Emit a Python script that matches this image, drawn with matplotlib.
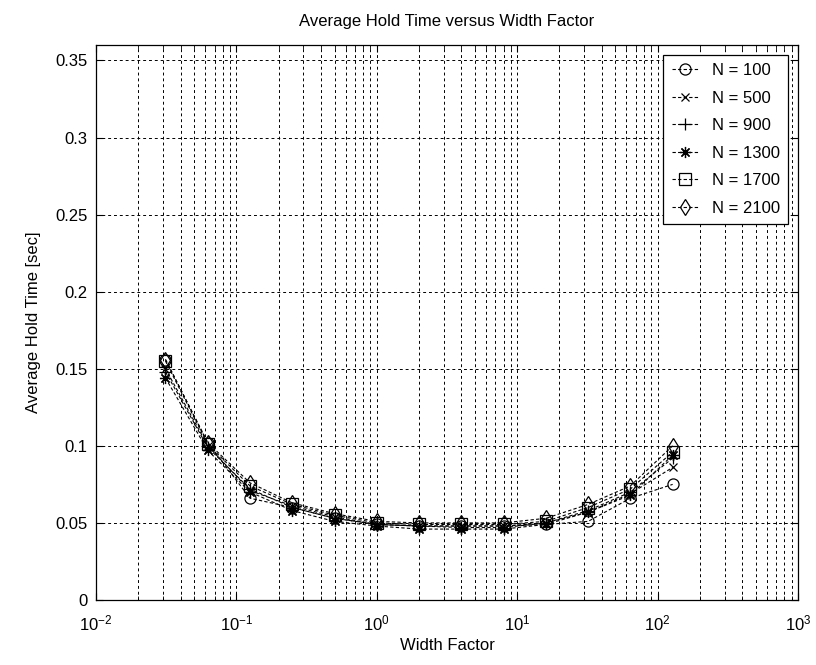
import numpy as np
import matplotlib.pyplot as plt
from matplotlib.ticker import LogLocator, FixedLocator, FuncFormatter, NullFormatter

plt.rcParams['font.family'] = ['Liberation Sans', 'DejaVu Sans']

# width factors 2^-5 ... 2^7
width_factor = [0.03125, 0.0625, 0.125, 0.25, 0.5, 1, 2, 4, 8, 16, 32, 64, 128]

hold_n100 = [0.156, 0.102, 0.066, 0.060, 0.053, 0.049, 0.048, 0.048, 0.048, 0.049, 0.051, 0.066, 0.075]
hold_n500 = [0.150, 0.100, 0.071, 0.061, 0.054, 0.049, 0.048, 0.048, 0.048, 0.050, 0.057, 0.069, 0.086]
hold_n900 = [0.148, 0.099, 0.072, 0.060, 0.053, 0.049, 0.048, 0.047, 0.047, 0.050, 0.058, 0.070, 0.092]
hold_n1300 = [0.144, 0.097, 0.070, 0.058, 0.051, 0.048, 0.046, 0.046, 0.046, 0.049, 0.057, 0.068, 0.094]
hold_n1700 = [0.155, 0.101, 0.074, 0.062, 0.055, 0.050, 0.049, 0.049, 0.049, 0.051, 0.060, 0.072, 0.096]
hold_n2100 = [0.156, 0.102, 0.076, 0.063, 0.056, 0.051, 0.050, 0.050, 0.050, 0.053, 0.062, 0.074, 0.100]

# matlab-ish markers: o, x, +, *, square, diamond
series = [
    ('N = 100', hold_n100, 'o', 8),
    ('N = 500', hold_n500, 'x', 6),
    ('N = 900', hold_n900, '+', 8),
    ('N = 1300', hold_n1300, (8, 2, 0), 8),
    ('N = 1700', hold_n1700, 's', 8),
    ('N = 2100', hold_n2100, 'd', 8),
]

fig = plt.figure(figsize=(8.16, 6.65), dpi=100)
ax = fig.add_axes([96 / 816, 1 - 600 / 665, 702 / 816, 555 / 665])

for label, vals, m, ms in series:
    ax.plot(width_factor, vals, color='black', linestyle=(0, (3, 2)), linewidth=0.8,
            marker=m, markersize=ms, markerfacecolor='none', markeredgecolor='black',
            markeredgewidth=0.9, label=label)

ax.set_xscale('log')
ax.set_xlim(1e-2, 1e3)
ax.set_ylim(0, 0.36)

ax.xaxis.set_major_locator(LogLocator(base=10, numticks=10))
ax.xaxis.set_minor_locator(LogLocator(base=10, subs=np.arange(2, 10), numticks=10))
ax.xaxis.set_minor_formatter(NullFormatter())
ax.yaxis.set_major_locator(FixedLocator(np.arange(0, 0.351, 0.05)))
ax.yaxis.set_major_formatter(FuncFormatter(lambda v, p: '0' if abs(v) < 1e-9 else ('%.2f' % v).rstrip('0')))

grid_style = dict(color='black', linestyle=(0, (3, 3)), linewidth=0.7)
ax.grid(True, which='major', axis='both', **grid_style)
ax.grid(True, which='minor', axis='x', **grid_style)

ax.tick_params(which='both', direction='in', top=True, right=True, labelsize=12, color='black')
ax.tick_params(which='major', length=5)
ax.tick_params(which='minor', length=3)
ax.tick_params(axis='x', which='major', pad=10)
ax.tick_params(axis='y', which='major', pad=6)
for s in ax.spines.values():
    s.set_linewidth(0.9)

ax.set_title('Average Hold Time versus Width Factor', fontsize=12, pad=14)
ax.set_xlabel('Width Factor', fontsize=12, labelpad=3)
ax.set_ylabel('Average Hold Time [sec]', fontsize=12, labelpad=10)

leg = ax.legend(loc='upper right', fontsize=12, handlelength=1.6, handletextpad=0.8,
                borderaxespad=0.6, fancybox=False, framealpha=1, edgecolor='black',
                labelspacing=0.75, borderpad=0.5)
leg.get_frame().set_linewidth(0.9)

fig.savefig('out.png', dpi=100, facecolor='white')
